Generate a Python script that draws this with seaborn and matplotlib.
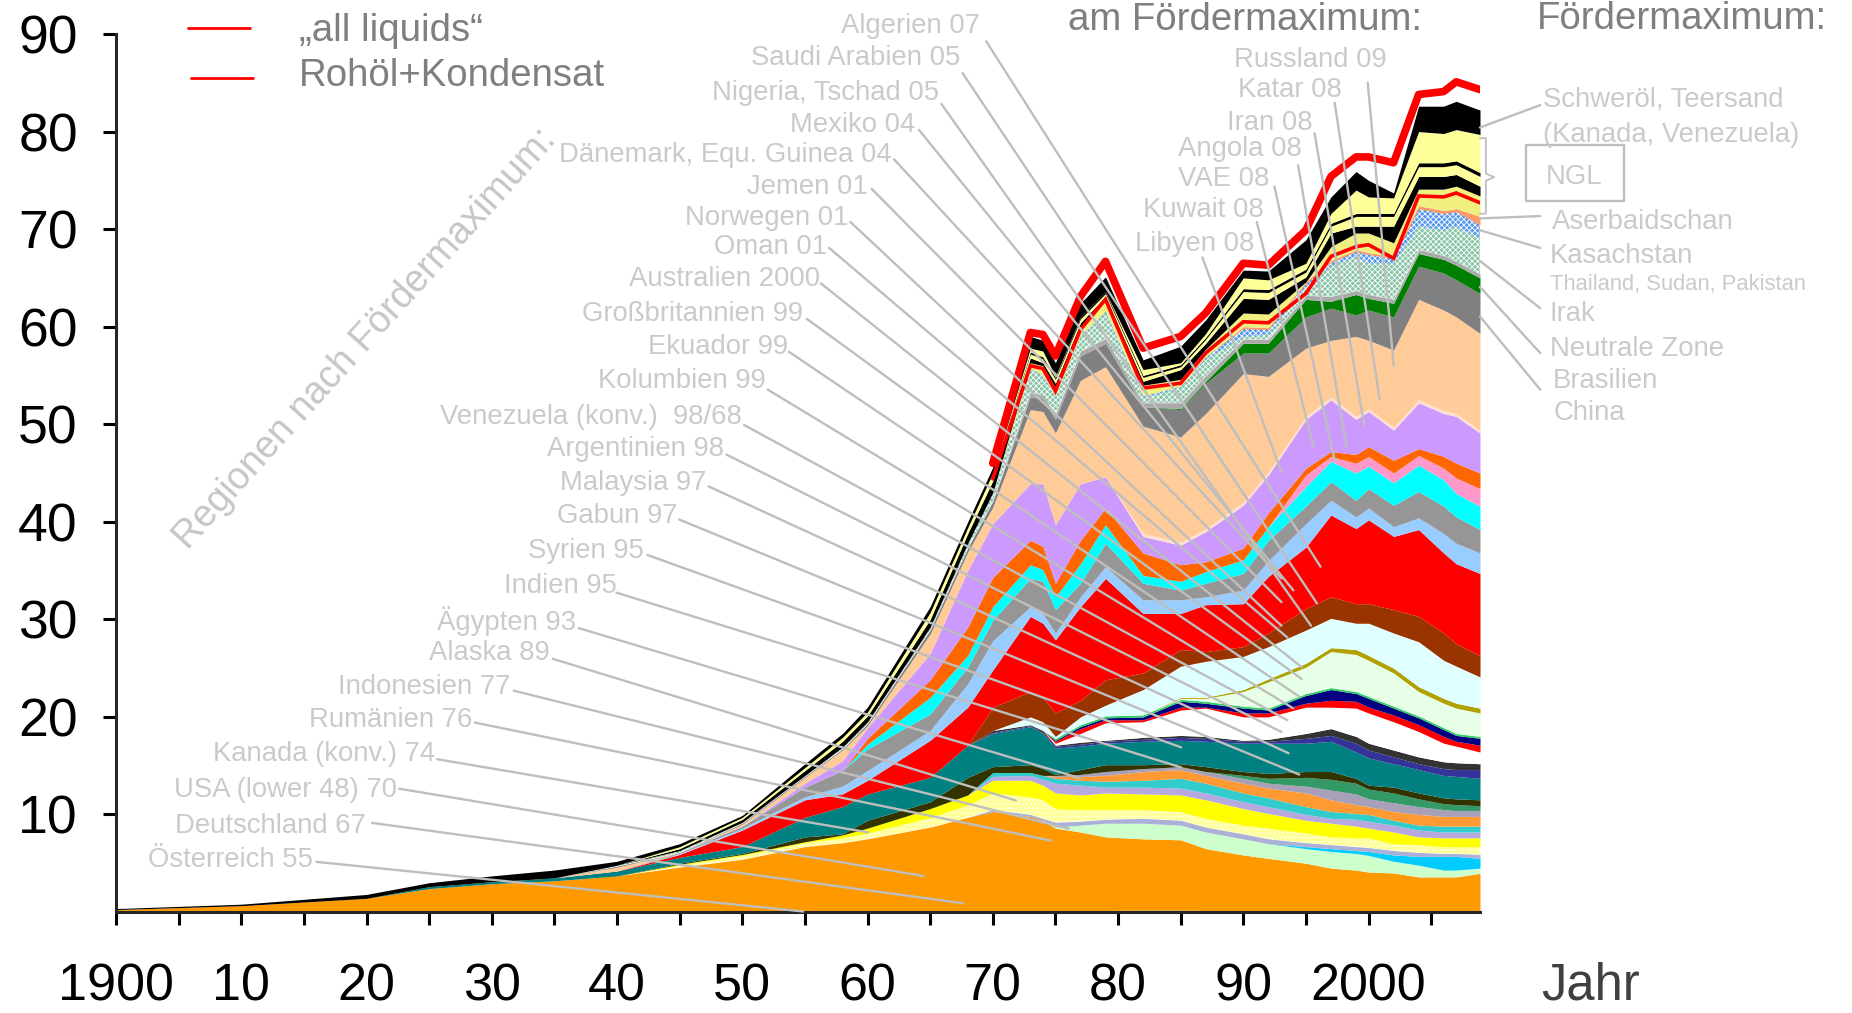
import numpy as np
import matplotlib
matplotlib.use("Agg")
import matplotlib.pyplot as plt
import seaborn as sns

YEARS = [1900,1910,1920,1925,1930,1935,1940,1945,1950,1955,1958,1960,1965,1968,1970,1973,1974,1975,1977,1979,
         1982,1985,1987,1990,1992,1995,1997,1999,2000,2002,2004,2006,2007,2008.9]
Z7 = [0]*7
Z14 = [0]*14
Z15 = [0]*15
Z17 = [0]*17

strip = [.15,.15,.15,.15,.15,.15,.15,.15,.15,.15,.15,.15,.15,.15,.15,.15,.15,.15,.15,.15,.2,.2,.15,.15,.15,.15,.15,.15,.15,.15,.15,.15,.15,.15]
orange = [.25,.65,1.4,2.4,2.9,3.2,3.7,4.6,5.4,6.7,7.1,7.5,8.7,9.7,10.3,9.8,9.4,8.6,8.2,7.7,7.5,7.4,6.5,5.85,5.5,5,4.5,4.3,4.1,4,3.6,3.6,3.6,3.97]
light_green = Z17 + [8.7,8.9,9.1,9.1,8.9,8.2,7.5,7,6.5,6.2,6,5.8,5.2,4.8,4.3,4.3,4.5]
sky = [0]*25 + [6.7,6.5,6.3,6.2,5.85,5.7,5.7,5.7,5.5]
lavender = Z14 + [10.5,10,9.6,9.2,9.3,9.5,9.6,9.4,8.7,8,7.5,7.1,6.9,6.7,6.6,6.3,6.1,6,6,5.9]
pale_yellow = Z7 + [4.8,5.8,7.1,7.6,8.1,9.7,11,12.2,11.8,11.5,10.6,10.5,10.5,10.5,10.3,9.6,8.9,8.6,8.1,7.7,7.6,7.6,7,6.9,6.7,6.7,6.7]
yellow = Z7 + [4.9,5.9,7.2,7.9,8.6,10.6,12,13.5,13.5,13,12.2,12,12.2,12.1,12,11.5,10.6,10.1,9.4,9.1,8.8,8.6,8.2,7.7,7.6,7.6,7.6]
lilac = Z14 + [13.9,14,13.6,13.2,13,12.8,12.8,12.7,12.2,11.3,10.8,10,9.6,9.5,9.3,8.9,8.4,8.2,8.2,8.2]
aqua = Z14 + [14.3,14.3,14,13.7,13.5,13.4,13.5,13.7,13.2,12.2,11.7,10.8,10.3,10.1,10,9.4,8.9,8.8,8.8,8.8]
orange2 = Z17 + [13.9,13.9,14,14.4,14.6,14,13.2,12.7,12.2,11.5,11,10.8,10.3,10,9.8,9.8,9.8]
greyish = Z17 + [14,14.1,14.4,14.7,14.9,14.4,13.7,13.2,12.9,12.5,12.1,11.6,11.2,10.8,10.5,10.4,10.4]
sea = [0]*23 + [14,13.7,13.8,13.6,13.2,12.6,12.2,11.6,11.1,11,10.9]
olive = Z7 + [5,6,7.7,8,9.4,11.3,13.8,14.9,15.1,14.7,14.1,14.6,15.1,15.1,15.2,14.9,14.4,14.2,14.4,14.4,13.7,13,12.8,12.2,11.7,11.6,11.5]
teal = [0,0,0,2.6,3.1,3.5,4.2,5.6,6.7,9.7,10.8,12.1,13.8,17.1,18.3,19,18.3,16.8,17,17.3,17.5,17.6,17.5,17.3,17.3,17.3,17.5,16.4,15.8,15.2,14.6,14,13.9,13.7]
indigo = Z14 + [18.4,19.1,18.4,17,17.2,17.5,17.7,17.9,17.8,17.5,17.5,17.8,18.1,17.3,16.6,15.9,15.2,14.7,14.6,14.6]
dark = Z14 + [18.6,19.2,18.6,17.1,17.4,17.6,17.9,18.1,18,17.6,17.7,18.3,18.8,18,17.3,16.6,15.9,15.4,15.3,15.2]
white = Z17 + [17.3,18.3,19.4,19.5,20.7,20.9,20,20,21,21,20.9,20.4,19.5,18.5,17.3,17,16.4]
red_thin = Z17 + [17.5,18.8,19.7,19.7,21,21,20.4,20.4,21.4,21.7,21.6,21,20.2,19.2,18,17.5,17.1]
navy = Z17 + [17.6,19,19.9,20,21.6,21.4,20.9,20.7,22.2,22.8,22.4,21.9,20.9,19.9,18.7,18.1,17.8]
lime = Z17 + [17.8,19.2,20.1,20.2,21.8,21.6,21.1,20.9,22.4,23,22.6,22.1,21.1,20.1,18.9,18.3,18]
pale_green = [0]*21 + [21.9,21.9,22.6,23.6,25.1,26.7,26.4,25.8,24.5,22.6,21.4,20.9,20.4]
olive_line = [0]*21 + [22,22,22.8,23.9,25.5,27.1,26.9,26.3,25,23.1,21.9,21.4,20.9]
pale_cyan = Z15 + [20,19.5,18,20,21.2,22.8,25.2,25.7,26.2,27.2,28.9,30.1,29.6,29.6,28.6,27.7,25.8,25.2,24.1]
brown = Z14 + [21,22.6,22,20.4,21.7,23.8,24.5,26.9,26.7,27.2,28.6,31.1,32.3,31.6,31.6,31,30.3,28.6,27.5,26.3]
red = Z7 + [5.9,8.4,11.5,12.1,13.5,17.6,21,24.8,30.3,29.6,27.9,31.3,34.2,30.6,30.6,31.5,31.6,34.4,37.4,40.7,39.3,40.2,38.5,39.2,36.8,35.7,34.7]
sky2 = Z7 + [6,8.6,11.8,12.9,14.5,18.6,23.4,27.8,31.3,30.6,28.6,32.3,35.4,32,32,32.3,33,36,39.8,42.2,40.5,41.4,39.5,40.4,38.8,37.8,36.8]
grey = Z7 + [6.1,8.8,12.8,14.5,16.7,20.3,25.1,29.9,34.2,33.9,31,33.7,37.8,33.7,33,33.7,34.7,38.1,41.6,44.1,42.2,43.4,41.7,43.1,41.6,40.5,39.2]
cyan = [0]*11 + [17.2,22,26.3,31.3,35.6,35.1,32.3,35.7,39.7,34.5,33.9,34.9,36.1,39.5,43.6,46.2,45,45.7,44,45.8,44.3,42.9,41.6]
pink = [0]*25 + [44.8,46.7,46,46.7,45,46.8,45.5,44.5,43.4]
orange3 = [0]*11 + [17.8,23.8,29.2,34.3,38.1,37.5,33.7,38.1,41.4,36.8,35.6,35.9,37.3,40.9,45.5,47.2,46.9,47.7,46.3,47.5,46.7,46,45]
purple = Z7 + [6,8.7,13.2,15.5,18.9,26.5,35,39.8,43.9,43.9,39.7,43.9,44.6,38.5,37.6,39,41.7,44.8,50.5,52.5,50.5,51.3,49.4,52.2,51.1,50.8,49.1]
rose = [0]*20 + [38.8,37.9,39.3,42,45.1,50.8,52.8,50.8,51.6,49.7,52.5,51.4,51.1,49.4]
peach = [0,0,0,0,0,0,4.6,6,9,13.8,16.6,19.1,28.5,36.9,41.5,51.5,51.3,49.1,54.5,55.9,49.8,48.7,51.1,55.2,54.9,57.8,58.6,59,58.6,57.6,62.8,61.7,61,59.3]
grey80 = [0,0,0,0,0,0,4.7,6.1,9.1,13.9,16.7,19.3,28.9,37.3,42.1,52.8,52.6,50.5,57,58.3,51.8,51.5,54.2,57.3,57.3,61,61.9,61.2,61.7,61,66.2,65.5,64.8,63.4]
green = [0]*21 + [51.6,54.4,58.3,58.3,62.8,62.6,63.3,62.9,62.4,67.5,66.9,66.3,65]
grey_light = Z15 + [53.3,53,51,57.5,58.8,52.2,52.2,55,58.7,58.7,63.2,63.1,63.7,63.3,62.8,67.9,67.3,66.7,65.4]
check_green = [0]*6 + [4.8,6.3,9.2,14,16.9,19.5,29.2,37.8,43,55.6,55,52.8,59,61.4,52.7,53.7,56.6,59,59.2,64.1,66.2,67.2,66.5,66.5,70.3,69.9,70.3,69.1]
check_blue = Z15 + [55.7,55.1,52.9,59.2,61.6,52.9,53.9,56.9,59.8,59.7,64.4,66.6,67.7,67.4,67,72.1,71.6,71.8,70.4]
salmon = [0]*23 + [60,59.9,64.6,66.8,67.9,67.6,67.2,72.4,71.9,72.1,71.3]
yellow0 = Z15 + [56.3,56,53.7,60,63,54,54.6,57.7,61.4,61.3,64,68.2,69.6,69.6,68.6,74.1,74.1,74.4,73.4]
black3 = Z7 + [6.5,9.5,14.5,17.5,20.1,30,38.8,44.2,56.8,56.3,54.2,60.4,63.1,54.4,55.6,58.3,62.9,62.8,65.1,69.6,70.3,70.3,70.3,75.4,75.4,75.6,74.4]
yellow1 = Z7 + [6.7,9.7,14.8,17.9,20.5,30.7,39.4,45,57.2,56.7,54.6,60.8,63.4,54.8,55.9,58.7,63.6,63.5,65.6,70.3,71.3,71.3,71.3,76.4,76.4,76.6,75.4]
stripe = Z7 + [6.7,9.7,14.8,17.9,20.5,30.7,39.4,45,57.4,56.9,54.8,61,63.6,55,56.1,58.9,63.9,63.8,65.9,70.6,71.6,71.6,71.6,76.8,76.8,77,75.8]
yellow2 = Z7 + [6.7,9.7,14.8,17.9,20.5,30.7,39.4,45,57.8,57.5,54.9,61,63.6,55.6,56.3,59.3,65,64.8,66.5,71.6,74,73.3,73.2,80,79.8,80.2,79.7]
heavy = [.35,.8,1.8,3,3.7,4.3,5.2,7,9.9,15.2,18.3,21,31.3,40,45.6,59,58.6,56.3,62.4,65.1,56.6,58,60.7,65.8,65.7,68.9,73.3,75.9,75,73.7,82.6,82.6,83.1,82.2]

all_liquids = [46,59.4,59.2,57,63.1,66.7,57.8,59,61.4,66.5,66.3,69.9,75.4,77.4,77.4,76.8,83.8,84.1,85.1,84.3]
crude_cond = [44.4,56,55.7,53.4,59.7,62.8,53.7,54.2,57.3,60.5,60.4,63.4,67.2,68.2,68.4,67,73.4,73.3,73.7,72.7]

LAYERS = [
 (strip,"#A07820",None),(orange,"#FF9900",None),(light_green,"#CCFFCC",None),(sky,"#00CCFF",None),
 (lavender,"#AAB0D8",None),(pale_yellow,"#FFFF99","...."),(yellow,"#FFFF00",None),(lilac,"#B8A8E0",None),
 (aqua,"#33CCCC",None),(orange2,"#FF9933",None),(greyish,"#A8A0B8",None),(sea,"#339966",None),
 (olive,"#333300",None),(teal,"#008080",None),(indigo,"#333399",None),(dark,"#333333",None),(white,"#FFFFFF",None),
 (red_thin,"#FF0000",None),(navy,"#000080",None),(lime,"#33CC66",None),(pale_green,"#E6FFE6",None),
 (olive_line,"#B0A000",None),(pale_cyan,"#E0FFFF",None),(brown,"#993300",None),(red,"#FF0000",None),
 (sky2,"#99CCFF",None),(grey,"#969696",None),(cyan,"#00FFFF",None),(pink,"#FF99CC",None),(orange3,"#FF6600",None),
 (purple,"#CC99FF",None),(rose,"#FFE0D0",None),(peach,"#FFCC99",None),(grey80,"#808080",None),(green,"#008000",None),
 (grey_light,"#AAAAAA",None),(check_green,"#88C4A6","xxxxxx"),(check_blue,"#5599EE","xxxxxx"),(salmon,"#FF9966",None),
 (yellow0,"#F0F080",None),(black3,"#000000",None),(yellow1,"#FFFF99",None),(stripe,"#000000",None),(yellow2,"#FFFF99",None),(heavy,"#000000",None),
]

Y_TICKS = [10,20,30,40,50,60,70,80,90]
X_MAJOR = [1900,1910,1920,1930,1940,1950,1960,1970,1980,1990,2000]
X_LABELS = ["1900","10","20","30","40","50","60","70","80","90","2000"]
X_MINOR = [1905,1915,1925,1935,1945,1955,1965,1975,1985,1995,2005]

# label text, right end x, y, leader start, leader end (layout, in 1568-wide reference pixels)
LEFT_LABELS = [
 ("Österreich 55",265,726,(268,730),(680,772)),
 ("Deutschland 67",310,698,(315,697),(815,765)),
 ("USA (lower 48) 70",336,667,(338,668),(782,742)),
 ("Kanada (konv.) 74",368,637,(370,643),(735,705)),
 ("Rumänien 76",400,608,(402,612),(890,712)),
 ("Indonesien 77",432,580,(435,585),(905,702)),
 ("Alaska 89",465,551,(468,558),(860,678)),
 ("Ägypten 93",488,524,(490,532),(914,659)),
 ("Indien 95",522,494,(522,502),(1000,650)),
 ("Syrien 95",545,465,(548,470),(1000,633)),
 ("Gabun 97",574,435,(575,440),(1100,656)),
 ("Malaysia 97",598,407,(600,412),(1091,638)),
 ("Argentinien 98",613,378,(615,385),(1085,620)),
 ("Venezuela (konv.)  98/68",628,351,(630,360),(1090,610)),
 ("Kolumbien 99",648,321,(650,330),(1095,600)),
 ("Ekuador 99",667,292,(668,298),(1100,590)),
 ("Großbritannien 99",680,264,(683,270),(1102,575)),
 ("Australien 2000",694,234,(695,240),(1102,565)),
 ("Oman 01",700,207,(702,210),(1090,540)),
 ("Norwegen 01",718,183,(720,188),(1085,530)),
 ("Jemen 01",735,156,(738,160),(1085,510)),
 ("Dänemark, Equ. Guinea 04",755,129,(757,135),(1085,490)),
 ("Mexiko 04",775,104,(778,110),(1095,500)),
 ("Nigeria, Tschad 05",795,77,(797,88),(1110,530)),
 ("Saudi Arabien 05",813,47,(815,62),(1115,511)),
 ("Algerien 07",830,20,(835,35),(1118,480)),
 ("Libyen 08",1062,205,(1018,218),(1085,400)),
 ("Kuwait 08",1070,176,(1064,188),(1112,378)),
 ("VAE 08",1075,150,(1079,158),(1130,390)),
 ("Angola 08",1102,124,(1099,140),(1140,378)),
 ("Iran 08",1111,102,(1113,113),(1155,360)),
 ("Katar 08",1136,74,(1130,87),(1168,338)),
 ("Russland 09",1174,49,(1158,70),(1180,310)),
]
RIGHT_LABELS = [
 ("Schweröl, Teersand",1306,82,19.8,(1304,89),(1253,108)),
 ("(Kanada, Venezuela)",1306,112,19.8,None,None),
 ("Aserbaidschan",1314,186,19.8,(1304,183),(1253,185)),
 ("Kasachstan",1312,215,19.8,(1304,210),(1253,195)),
 ("Thailand, Sudan, Pakistan",1312,239,15.8,None,None),
 ("Irak",1312,264,19.8,(1304,261),(1253,221)),
 ("Neutrale Zone",1312,294,19.8,(1304,299),(1253,243)),
 ("Brasilien",1315,321,19.8,(1304,330),(1253,268)),
 ("China",1315,348,19.8,None,None),
]

sns.set_theme(style="ticks")
plt.rcParams["font.family"] = ["Liberation Sans", "DejaVu Sans"]
plt.rcParams["hatch.linewidth"] = 0.6

W, H = 1852, 1013
fig = plt.figure(figsize=(W/100, H/100), dpi=100, facecolor="white")
ax = fig.add_axes([116/W, 1-912/H, (1480-116)/W, (912-34)/H])
ax.set_facecolor("white")

tops = np.maximum.accumulate(np.array([l[0] for l in LAYERS], float), axis=0)
prev = np.zeros(len(YEARS))
for (vals, col, hatch), top in zip(LAYERS, tops):
    if hatch:
        ax.fill_between(YEARS, prev, top, facecolor=col, edgecolor="white", hatch=hatch, linewidth=0)
    else:
        ax.fill_between(YEARS, prev, top, color=col, linewidth=0)
    prev = top

sns.lineplot(x=YEARS[14:], y=crude_cond, color="#FF0000", linewidth=2.6, ax=ax, errorbar=None, solid_joinstyle="miter")
sns.lineplot(x=YEARS[14:], y=all_liquids, color="#FF0000", linewidth=5.5, ax=ax, errorbar=None, solid_joinstyle="round")

ax.set_xlim(1900, 2008.9)
ax.set_ylim(0, 90)
ax.set_xticks(X_MAJOR, X_LABELS)
ax.set_xticks(X_MINOR, minor=True)
ax.set_yticks(Y_TICKS)
ax.tick_params(axis="both", which="both", length=9.5, width=2.2, color="black", direction="out")
ax.tick_params(axis="x", which="major", labelsize=37.5, pad=27, labelcolor="black")
ax.tick_params(axis="y", which="major", labelsize=38.5, pad=18, labelcolor="black")
sns.despine(ax=ax)
for s in ("left", "bottom"):
    ax.spines[s].set_linewidth(2.2)

SX = W/1568
SY = H/858
def fx(x): return x*SX/W
def fy(y): return 1-y*SY/H
LC = "#BEBEBE"
TC = "#CACACA"
HC = "#7F7F7F"

def leader(p0, p1):
    ax.plot([fx(p0[0]), fx(p1[0])], [fy(p0[1]), fy(p1[1])], color=LC, lw=1.7,
            transform=fig.transFigure, clip_on=False, zorder=20)

for txt, x, y, p0, p1 in LEFT_LABELS:
    fig.text(fx(x), fy(y+2), txt, ha="right", va="center", fontsize=19.8, color=TC)
    leader(p0, p1)
for txt, x, y, fs, p0, p1 in RIGHT_LABELS:
    fig.text(fx(x), fy(y+2), txt, ha="left", va="center", fontsize=fs, color=TC)
    if p0:
        leader(p0, p1)

fig.text(fx(904), fy(17), "am Fördermaximum:", ha="left", va="center", fontsize=27.6, color=HC)
fig.text(fx(1301), fy(16), "Fördermaximum:", ha="left", va="center", fontsize=27.6, color=HC)
fig.text(fx(1305), fy(835), "Jahr", ha="left", va="center", fontsize=36.5, color="#404040")
fig.text(fx(253), fy(26), "„all liquids“", ha="left", va="center", fontsize=27.6, color=HC)
fig.text(fx(253), fy(64), "Rohöl+Kondensat", ha="left", va="center", fontsize=27.6, color=HC)
fig.text(fx(309), fy(287), "Regionen nach Fördermaximum:", ha="center", va="center", fontsize=27.3,
         color="#C6C6C6", rotation=48, rotation_mode="anchor")
ax.plot([fx(159), fx(212)], [fy(24), fy(24)], color="#FF0000", lw=2, transform=fig.transFigure, clip_on=False)
ax.plot([fx(162), fx(214)], [fy(66), fy(66)], color="#FF0000", lw=2, transform=fig.transFigure, clip_on=False)

# NGL box and bracket
ax.plot([fx(1292),fx(1375),fx(1375),fx(1292),fx(1292)], [fy(123),fy(123),fy(170),fy(170),fy(123)],
        color=LC, lw=1.7, transform=fig.transFigure, clip_on=False)
fig.text(fx(1333), fy(150), "NGL", ha="center", va="center", fontsize=19.8, color=TC)
ax.plot([fx(1253),fx(1258),fx(1258),fx(1265),fx(1258),fx(1258),fx(1253)],
        [fy(117),fy(117),fy(147),fy(150),fy(153),fy(181),fy(181)],
        color=LC, lw=1.3, transform=fig.transFigure, clip_on=False)

fig.savefig("out.png", dpi=100, facecolor="white")
